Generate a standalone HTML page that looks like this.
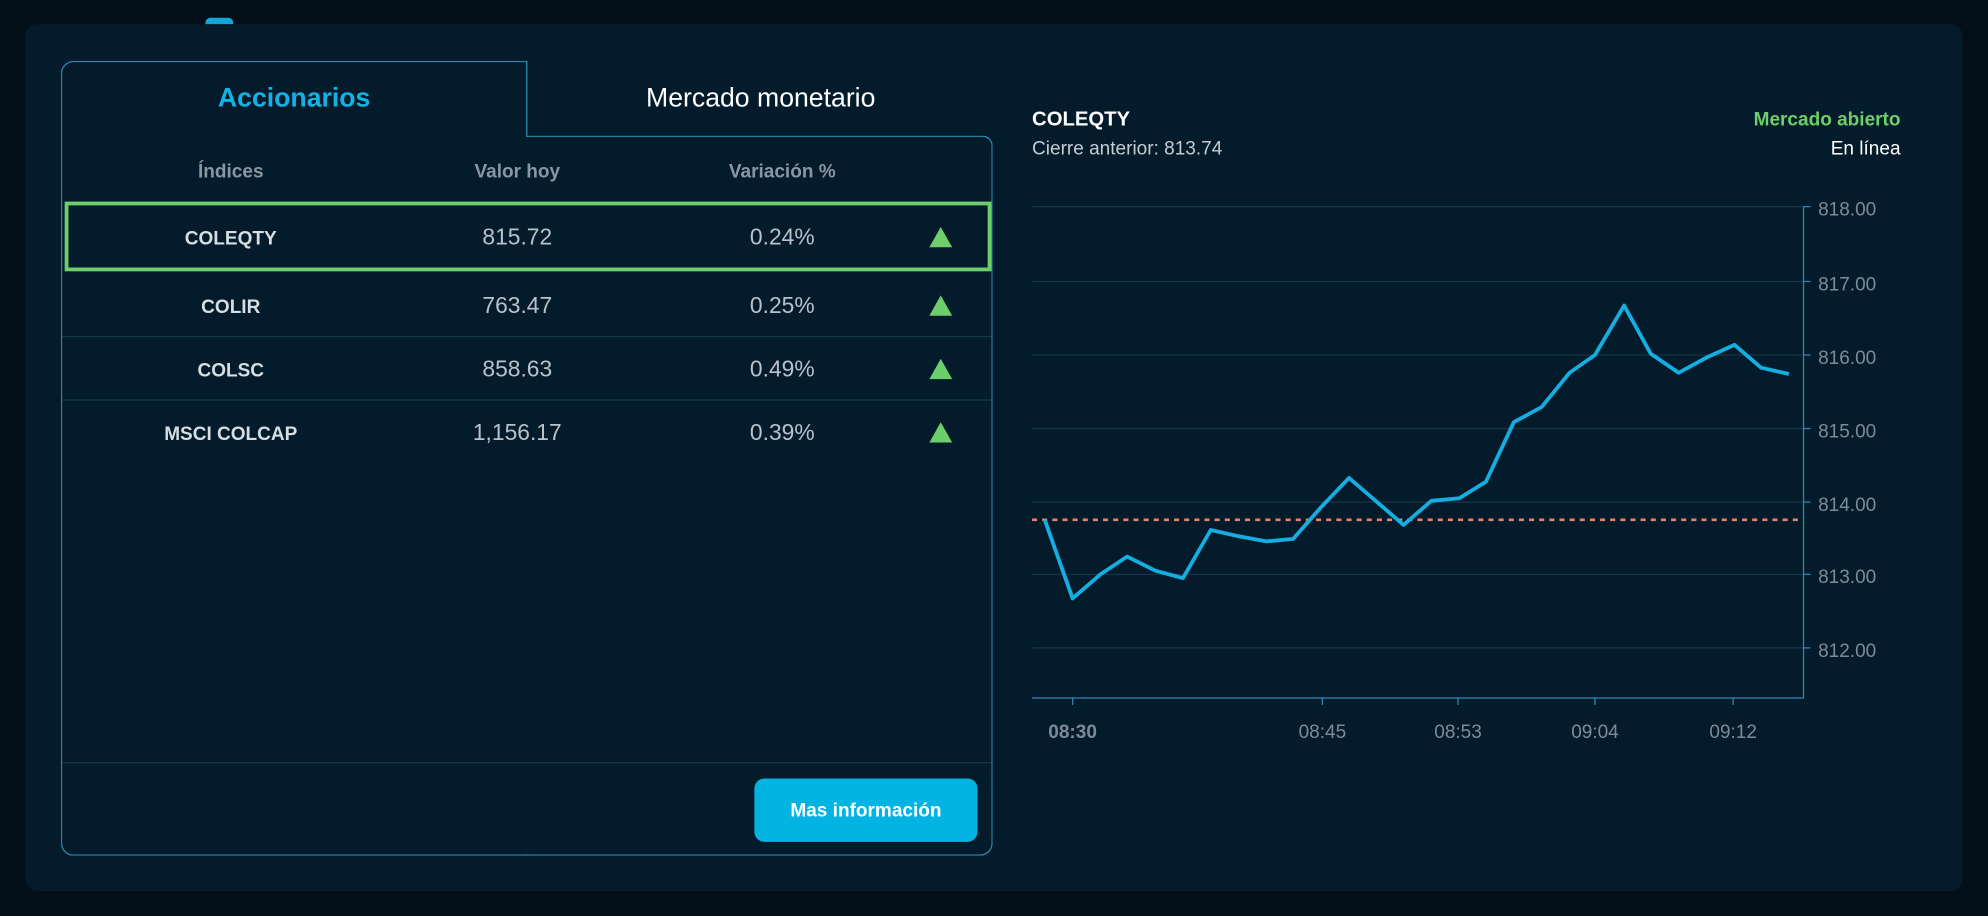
<!DOCTYPE html>
<html><head><meta charset="utf-8"><style>
html,body{margin:0;padding:0;background:#020f19;width:1988px;height:916px;overflow:hidden;font-family:"Liberation Sans",sans-serif}
#w{position:absolute;left:0;top:0;width:1568px;height:722px;transform:scale(1.26786);transform-origin:0 0}
.a{position:absolute}
.card{left:20px;top:19px;width:1528px;height:684px;background:#041b2b;border-radius:10px}
.t{position:absolute;white-space:nowrap}
.c{transform:translateX(-50%)}
.hd{color:#8a97a2;font-weight:bold;font-size:15px;top:127px}
.nm{color:#d6dde3;font-weight:bold;font-size:15px}
.vl{color:#b8c2ca;font-size:18px}
.tri{width:0;height:0;border-left:9px solid transparent;border-right:9px solid transparent;border-bottom:16px solid #6ccf6c}
.sep{position:absolute;left:49px;width:733px;height:1px;background:#16384d}
</style></head><body><div id="w">
<div class="a" style="left:162px;top:14px;width:22px;height:8px;background:#0fa8d8;border-radius:4px"></div>
<div class="a card"></div>
<div class="a" style="left:48px;top:48px;width:368px;height:617px;border:1px solid #2f87b0;border-bottom:none;border-right:none;border-radius:10px 0 0 0;box-sizing:border-box"></div>
<div class="a" style="left:415px;top:48px;width:1px;height:60px;background:#2f87b0"></div>
<div class="a" style="left:415px;top:107px;width:368px;height:568px;border:1px solid #2f87b0;border-left:none;border-radius:0 8px 10px 0;box-sizing:border-box"></div>
<div class="a" style="left:48px;top:665px;width:370px;height:10px;border-bottom:1px solid #2f87b0;border-left:1px solid #2f87b0;border-radius:0 0 0 10px;box-sizing:border-box"></div>
<div class="t c" style="left:232px;top:66px;color:#14b2e4;font-weight:bold;font-size:21px">Accionarios</div>
<div class="t c" style="left:600px;top:66px;color:#fff;font-size:21px">Mercado monetario</div>
<div class="t c hd" style="left:182px">Índices</div>
<div class="t c hd" style="left:408px">Valor hoy</div>
<div class="t c hd" style="left:617px">Variación %</div>
<div class="a" style="left:51px;top:159px;width:731px;height:55px;border:3px solid #6ccf6c;box-sizing:border-box"></div>
<div class="sep" style="top:265px"></div><div class="sep" style="top:315px"></div><div class="sep" style="top:601px"></div>
<div class="t c nm" style="left:182px;top:180px">COLEQTY</div>
<div class="t c vl" style="left:408px;top:177px">815.72</div>
<div class="t c vl" style="left:617px;top:177px">0.24%</div>
<div class="a tri" style="left:733px;top:179px"></div>
<div class="t c nm" style="left:182px;top:234px">COLIR</div>
<div class="t c vl" style="left:408px;top:231px">763.47</div>
<div class="t c vl" style="left:617px;top:231px">0.25%</div>
<div class="a tri" style="left:733px;top:233px"></div>
<div class="t c nm" style="left:182px;top:284px">COLSC</div>
<div class="t c vl" style="left:408px;top:281px">858.63</div>
<div class="t c vl" style="left:617px;top:281px">0.49%</div>
<div class="a tri" style="left:733px;top:283px"></div>
<div class="t c nm" style="left:182px;top:334px">MSCI COLCAP</div>
<div class="t c vl" style="left:408px;top:331px">1,156.17</div>
<div class="t c vl" style="left:617px;top:331px">0.39%</div>
<div class="a tri" style="left:733px;top:333px"></div>
<div class="a" style="left:595px;top:614px;width:176px;height:50px;background:#03b3e2;border-radius:8px;color:#fff;font-weight:bold;font-size:15px;line-height:52px;text-align:center">Mas información</div>
<div class="t" style="left:814px;top:86px;color:#fff;font-weight:bold;font-size:16px">COLEQTY</div>
<div class="t" style="left:814px;top:109px;color:#c4ccd3;font-size:15px">Cierre anterior: 813.74</div>
<div class="t" style="right:69px;top:86px;color:#6ccf6c;font-weight:bold;font-size:15px">Mercado abierto</div>
<div class="t" style="right:69px;top:109px;color:#fff;font-size:15px">En línea</div>
<svg class="a" style="left:0;top:0" width="1568" height="722">
<g stroke="#173448" stroke-width="1">
<line x1="814" x2="1422" y1="163" y2="163"/><line x1="814" x2="1422" y1="222" y2="222"/><line x1="814" x2="1422" y1="280" y2="280"/><line x1="814" x2="1422" y1="338" y2="338"/><line x1="814" x2="1422" y1="396" y2="396"/><line x1="814" x2="1422" y1="453" y2="453"/><line x1="814" x2="1422" y1="511" y2="511"/>
</g>
<g stroke="#2f87b0" stroke-width="1">
<line x1="814" x2="1422" y1="550.5" y2="550.5"/><line x1="1422.5" x2="1422.5" y1="163" y2="551"/>
<line x1="1422" x2="1428" y1="163" y2="163"/><line x1="1422" x2="1428" y1="222" y2="222"/><line x1="1422" x2="1428" y1="280" y2="280"/><line x1="1422" x2="1428" y1="338" y2="338"/><line x1="1422" x2="1428" y1="396" y2="396"/><line x1="1422" x2="1428" y1="453" y2="453"/><line x1="1422" x2="1428" y1="511" y2="511"/>
<line x1="846" x2="846" y1="550" y2="556"/><line x1="1043" x2="1043" y1="550" y2="556"/><line x1="1150" x2="1150" y1="550" y2="556"/><line x1="1258" x2="1258" y1="550" y2="556"/><line x1="1367" x2="1367" y1="550" y2="556"/>
</g>
<line x1="814" x2="1422" y1="410" y2="410" stroke="#e8806a" stroke-width="2" stroke-dasharray="4,4"/>
<polyline fill="none" stroke="#14aee0" stroke-width="3" stroke-linejoin="round" points="824,410 846,472 868,453 889,439 911,450 933,456 955,418 977,423 999,427 1020,425 1042,400 1064,377 1085,395 1107,414 1129,395 1151,393 1172,380 1194,333 1216,321 1238,294 1258,280 1281,241 1302,279 1324,294 1346,282 1368,272 1389,290 1411,295"/>
<g fill="#7d8b96" font-family="Liberation Sans" font-size="15">
<text x="1434" y="170">818.00</text><text x="1434" y="229">817.00</text><text x="1434" y="287">816.00</text><text x="1434" y="345">815.00</text><text x="1434" y="403">814.00</text><text x="1434" y="460">813.00</text><text x="1434" y="518">812.00</text>
<text x="846" y="582" text-anchor="middle" font-weight="bold">08:30</text><text x="1043" y="582" text-anchor="middle">08:45</text><text x="1150" y="582" text-anchor="middle">08:53</text><text x="1258" y="582" text-anchor="middle">09:04</text><text x="1367" y="582" text-anchor="middle">09:12</text>
</g>
</svg>
</div></body></html>
